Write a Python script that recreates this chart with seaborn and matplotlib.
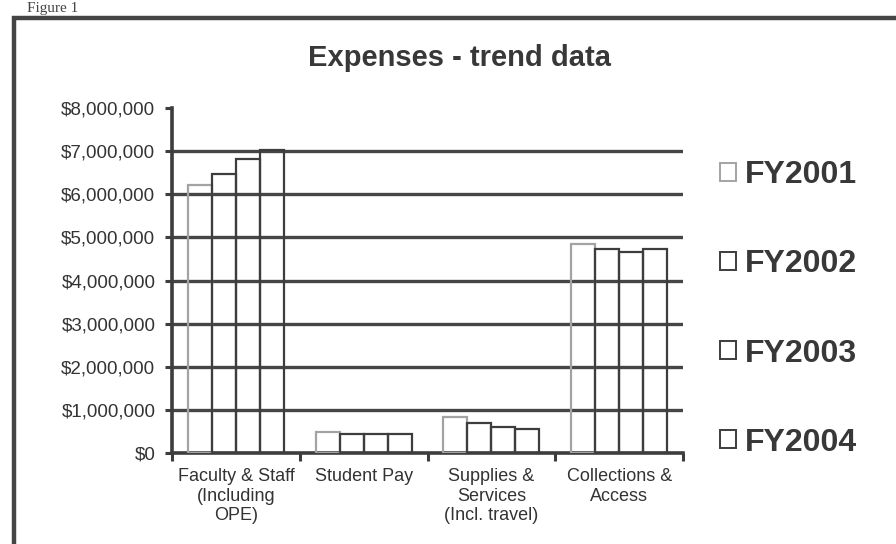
import matplotlib
matplotlib.use("Agg")
import matplotlib.pyplot as plt
from matplotlib.patches import Rectangle, Patch
from matplotlib.ticker import FuncFormatter, FixedLocator
import numpy as np
import pandas as pd
import seaborn as sns

# values
categories = ["Faculty & Staff\n(Including\nOPE)", "Student Pay",
              "Supplies &\nServices\n(Incl. travel)", "Collections &\nAccess"]
years = ["FY2001", "FY2002", "FY2003", "FY2004"]
fy2001 = [6220000, 490000, 840000, 4850000]
fy2002 = [6470000, 440000, 700000, 4730000]
fy2003 = [6820000, 440000, 600000, 4660000]
fy2004 = [7030000, 440000, 560000, 4730000]

df = pd.DataFrame({"Category": categories, "FY2001": fy2001, "FY2002": fy2002,
                   "FY2003": fy2003, "FY2004": fy2004})
df = df.melt(id_vars="Category", var_name="Year", value_name="Expense")

dark = "#3d3d3d"
light = "#a3a3a3"
pal = {"FY2001": light, "FY2002": dark, "FY2003": dark, "FY2004": dark}

sns.set_style("white")
plt.rcParams["font.family"] = ["Liberation Sans", "DejaVu Sans"]

fig = plt.figure(figsize=(8.96, 5.44), dpi=100)
ax = fig.add_axes([172 / 896, 1 - 453 / 544, (683 - 172) / 896, (453 - 108) / 544])

sns.barplot(data=df, x="Category", y="Expense", hue="Year", order=categories,
            hue_order=years, palette=pal, fill=False, width=0.75,
            linewidth=1.6, ax=ax, legend=False, zorder=3)

ax.set_ylim(0, 8000000)
ax.set_xlim(-0.5, 3.5)
ax.set_yticks(np.arange(0, 8000001, 1000000))
ax.yaxis.set_major_formatter(FuncFormatter(lambda v, p: "${:,.0f}".format(v)))
ax.set_xlabel("")
ax.set_ylabel("")

# category labels as minor ticks, boundary tick marks as major ticks
ax.xaxis.set_major_locator(FixedLocator(np.arange(-0.5, 4, 1)))
ax.xaxis.set_minor_locator(FixedLocator(np.arange(0, 4)))
ax.set_xticklabels([""] * 5)
ax.set_xticklabels(categories, minor=True, fontsize=13, color="#333333", linespacing=1.2)
ax.tick_params(axis="x", which="major", length=6, width=2.2, color=dark, direction="out", bottom=True)
ax.tick_params(axis="x", which="minor", length=0, pad=11)
ax.tick_params(axis="y", length=5, width=2.2, color=dark, direction="out", left=True,
               labelsize=13.5, labelcolor="#333333", pad=7)

ax.yaxis.grid(True, color="#454545", linewidth=2.4, zorder=1)
ax.set_axisbelow(True)
ax.get_ygridlines()[0].set_visible(False)
ax.get_ygridlines()[-1].set_visible(False)

for s in ["top", "right"]:
    ax.spines[s].set_visible(False)
for s in ["left", "bottom"]:
    ax.spines[s].set_linewidth(2.6)
    ax.spines[s].set_color(dark)

handles = [Patch(facecolor="none", edgecolor=pal[y], linewidth=1.4) for y in years]
leg = fig.legend(handles, years, loc="center", bbox_to_anchor=(0.88, 0.432),
                 frameon=False, prop={"size": 23, "weight": "bold"},
                 labelspacing=1.85, handlelength=0.5, handleheight=0.5, handletextpad=0.3)
for t in leg.get_texts():
    t.set_color("#383838")

fig.text(0.513, 0.893, "Expenses - trend data", ha="center", va="center",
         fontsize=21, fontweight="bold", color="#383838")

fig.text(0.03, 0.997, "Figure 1", ha="left", va="top", fontsize=11,
         family=["Liberation Serif", "DejaVu Serif"], color="#444444")

fig.add_artist(Rectangle((14 / 896, -0.2), 1.2, 1.2 - 18 / 544, transform=fig.transFigure,
                         fill=False, edgecolor="#444444", linewidth=3.2))

fig.savefig("out.png", dpi=100)
